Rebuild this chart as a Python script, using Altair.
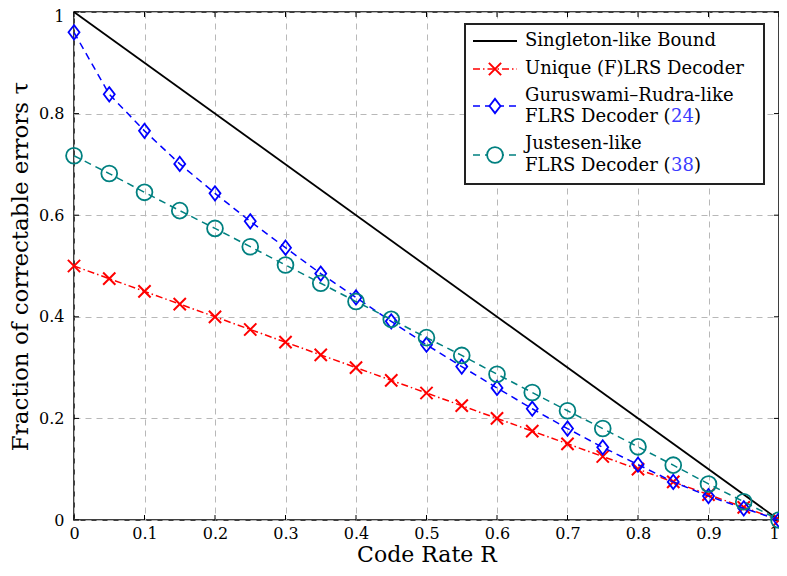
import altair as alt
import pandas as pd

# ---------------- data ----------------
rates = [0.0, 0.05, 0.1, 0.15, 0.2, 0.25, 0.3, 0.35, 0.4, 0.45, 0.5,
         0.55, 0.6, 0.65, 0.7, 0.75, 0.8, 0.85, 0.9, 0.95, 1.0]
singleton_rates = [0.0, 1.0]
singleton_vals = [1.0, 0.0]
unique_vals = [0.5, 0.475, 0.45, 0.425, 0.4, 0.375, 0.35, 0.325, 0.3, 0.275, 0.25,
               0.225, 0.2, 0.175, 0.15, 0.125, 0.1, 0.075, 0.05, 0.025, 0.0]
gr_vals = [0.960, 0.838, 0.766, 0.701, 0.643, 0.588, 0.536, 0.485, 0.438, 0.391, 0.345,
           0.302, 0.260, 0.219, 0.180, 0.143, 0.109, 0.075, 0.047, 0.023, 0.0]
just_vals = [0.717, 0.682, 0.645, 0.609, 0.574, 0.538, 0.502, 0.466, 0.430, 0.395, 0.359,
             0.324, 0.287, 0.251, 0.215, 0.180, 0.144, 0.108, 0.071, 0.036, 0.0]
x_ticks = [0, 0.1, 0.2, 0.3, 0.4, 0.5, 0.6, 0.7, 0.8, 0.9, 1]
y_ticks = [0, 0.2, 0.4, 0.6, 0.8, 1]

legend_labels = ["Singleton-like Bound", "Unique (F)LRS Decoder",
                 "Guruswami\u2013Rudra-like", "FLRS Decoder (", "24",
                 "Justesen-like", "FLRS Decoder (", "38"]

# ---------------- styling ----------------
FONT = "DejaVu Serif"
W, H = 705, 508
RED, BLUE, TEAL = "#ff0000", "#0000ff", "#008080"
CITE = "#3b3bff"
CROSS = "M-1,-1L1,1M1,-1L-1,1"
DIAM = "M0,-1.3L1,0L0,1.3L-1,0Z"

xscale = alt.Scale(domain=[0, 1], nice=False, zero=False)
yscale = alt.Scale(domain=[0, 1], nice=False, zero=False)
xaxis = alt.Axis(values=x_ticks, format="~g", title="Code Rate R", labelFlush=False,
                 labelPadding=5, titlePadding=3, titleFontSize=22,
                 labelOffset={"condition": {"test": "datum.value == 1", "value": -5}, "value": 0})
yaxis = alt.Axis(values=y_ticks, format="~g", title="Fraction of correctable errors \u03c4",
                 labelFlush=False, labelPadding=10, titlePadding=6,
                 labelOffset={"condition": {"test": "datum.value == 1", "value": 4}, "value": 0})

def X(field):
    return alt.X(field, type="quantitative", scale=xscale, axis=xaxis)

def Y(field):
    return alt.Y(field, type="quantitative", scale=yscale, axis=yaxis)

df_s = pd.DataFrame({"R": singleton_rates, "tau": singleton_vals})
df_u = pd.DataFrame({"R": rates, "tau": unique_vals})
df_g = pd.DataFrame({"R": rates, "tau": gr_vals})
df_j = pd.DataFrame({"R": rates, "tau": just_vals})
df_xt = pd.DataFrame({"v": x_ticks})
df_yt = pd.DataFrame({"v": y_ticks})
one = pd.DataFrame({"k": [0]})

layers = []

# inward tick marks on all four sides
layers.append(alt.Chart(df_xt).mark_rule(color="black", strokeWidth=1).encode(
    x=X("v"), y=alt.value(H), y2=alt.value(H - 5)))
layers.append(alt.Chart(df_xt).mark_rule(color="black", strokeWidth=1).encode(
    x=X("v"), y=alt.value(0), y2=alt.value(5)))
layers.append(alt.Chart(df_yt).mark_rule(color="black", strokeWidth=1).encode(
    y=Y("v"), x=alt.value(0), x2=alt.value(5)))
layers.append(alt.Chart(df_yt).mark_rule(color="black", strokeWidth=1).encode(
    y=Y("v"), x=alt.value(W), x2=alt.value(W - 5)))

# Singleton-like bound
layers.append(alt.Chart(df_s).mark_line(color="black", strokeWidth=1.8).encode(
    x=X("R"), y=Y("tau")))

# Unique decoder
layers.append(alt.Chart(df_u).mark_line(color=RED, strokeWidth=1.5,
                                        strokeDash=[7, 3, 1.5, 3]).encode(x=X("R"), y=Y("tau")))
layers.append(alt.Chart(df_u).mark_point(shape=CROSS, size=150, color=RED, strokeWidth=2,
                                         filled=False, opacity=1).encode(x=X("R"), y=Y("tau")))

# Guruswami-Rudra-like
layers.append(alt.Chart(df_g).mark_line(color=BLUE, strokeWidth=1.5,
                                        strokeDash=[7, 5]).encode(x=X("R"), y=Y("tau")))
layers.append(alt.Chart(df_g).mark_point(shape=DIAM, size=121, color=BLUE, strokeWidth=1.8,
                                         filled=False, opacity=1).encode(x=X("R"), y=Y("tau")))

# Justesen-like
layers.append(alt.Chart(df_j).mark_line(color=TEAL, strokeWidth=1.5,
                                        strokeDash=[7, 5]).encode(x=X("R"), y=Y("tau")))
layers.append(alt.Chart(df_j).mark_point(shape="circle", size=250, color=TEAL, strokeWidth=1.8,
                                         filled=False, opacity=1).encode(x=X("R"), y=Y("tau")))

# ---------------- legend (manual, pgfplots style) ----------------
LX0, LX1, LY0, LY1 = 391, 690, 12, 172
layers.append(alt.Chart(one).mark_rect(fill="white", stroke="#222222", strokeWidth=2).encode(
    x=alt.value(LX0), x2=alt.value(LX1), y=alt.value(LY0), y2=alt.value(LY1)))

SX0, SX1, MX, TX = 399, 443, 421, 451
rows_y = [29, 57, 94, 143]
# line samples
layers.append(alt.Chart(one).mark_rule(color="black", strokeWidth=1.8).encode(
    x=alt.value(SX0), x2=alt.value(SX1), y=alt.value(rows_y[0])))
layers.append(alt.Chart(one).mark_rule(color=RED, strokeWidth=1.5, strokeDash=[7, 3, 1.5, 3]).encode(
    x=alt.value(SX0), x2=alt.value(SX1), y=alt.value(rows_y[1])))
layers.append(alt.Chart(one).mark_rule(color=BLUE, strokeWidth=1.5, strokeDash=[7, 5]).encode(
    x=alt.value(SX0), x2=alt.value(SX1), y=alt.value(rows_y[2])))
layers.append(alt.Chart(one).mark_rule(color=TEAL, strokeWidth=1.5, strokeDash=[7, 5]).encode(
    x=alt.value(SX0), x2=alt.value(SX1), y=alt.value(rows_y[3])))
# markers
layers.append(alt.Chart(one).mark_point(shape=CROSS, size=150, color=RED, strokeWidth=2,
                                        filled=False, opacity=1).encode(
    x=alt.value(MX), y=alt.value(rows_y[1])))
layers.append(alt.Chart(one).mark_point(shape=DIAM, size=121, color=BLUE, strokeWidth=1.8,
                                        fill="white", opacity=1).encode(
    x=alt.value(MX), y=alt.value(rows_y[2])))
layers.append(alt.Chart(one).mark_point(shape="circle", size=250, color=TEAL, strokeWidth=1.8,
                                        fill="white", opacity=1).encode(
    x=alt.value(MX), y=alt.value(rows_y[3])))

def txt(s, x, y, color="black"):
    return alt.Chart(one).mark_text(text=s, font=FONT, fontSize=18, align="left",
                                    baseline="middle", color=color).encode(
        x=alt.value(x), y=alt.value(y))

CX, PX = 597, 620
layers.append(txt(legend_labels[0], TX, 29))
layers.append(txt(legend_labels[1], TX, 57))
layers.append(txt(legend_labels[2], TX, 84))
layers.append(txt(legend_labels[3], TX, 105))
layers.append(txt(legend_labels[4], CX, 105, CITE))
layers.append(txt(")", PX, 105))
layers.append(txt(legend_labels[5], TX, 132))
layers.append(txt(legend_labels[6], TX, 154))
layers.append(txt(legend_labels[7], CX, 154, CITE))
layers.append(txt(")", PX, 154))

chart = alt.layer(*layers).properties(
    width=W, height=H,
    autosize=alt.AutoSizeParams(type="none"),
    padding={"left": 66, "top": 4, "right": 0, "bottom": 48},
).configure_view(
    stroke="black", strokeWidth=1.5
).configure_axis(
    labelFont=FONT, labelFontSize=16, labelColor="black",
    titleFont=FONT, titleFontSize=23, titleFontWeight="normal", titleColor="black",
    domain=False, ticks=False, grid=True,
    gridColor="#b8b8b8", gridDash=[6, 5], gridWidth=1, labelOverlap=False,
)

chart.save("out.html", embed_options={"renderer": "svg", "actions": False})
